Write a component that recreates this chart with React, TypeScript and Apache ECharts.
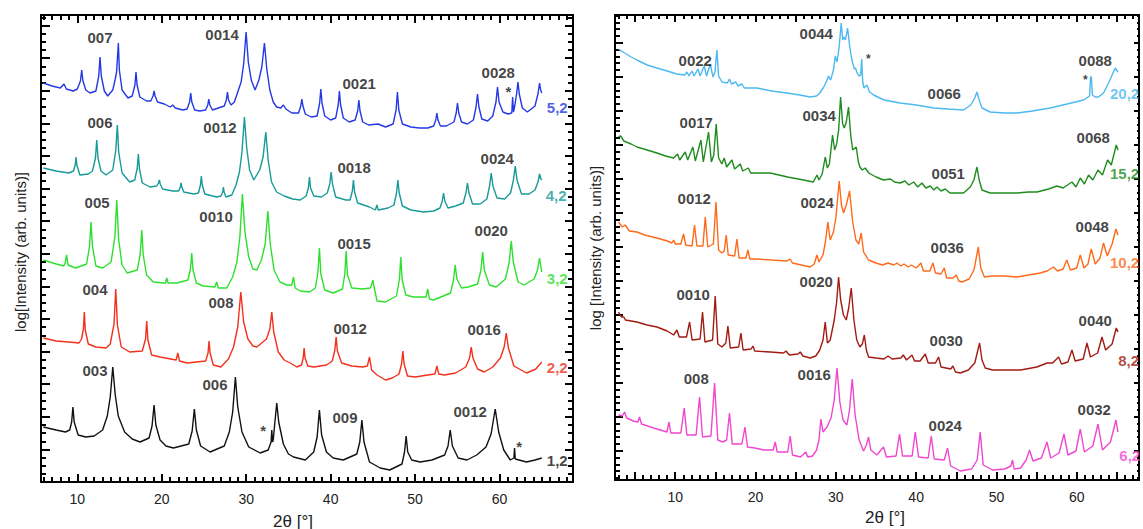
import { useEffect, useRef } from 'react';
import * as echarts from 'echarts';

type Pt = [number, number];
type Note = [number, number, string];

// ---------- Left panel: x = 2θ (°), y = log intensity (arb. units, stacked) ----------
const pattern52: Pt[] = [
  [5.97,399],[7.0,396],[8.0,394],[8.42,398],[8.7,393],[9.5,391],
  [10.0,393],[10.37,401],[10.52,412],[10.67,401],[11.0,392],[11.5,389],
  [12.2,391],[12.54,406],[12.69,425],[12.84,406],[13.2,391],[13.6,386],
  [14.2,392],[14.47,402],[14.65,410],[14.76,425],[14.86,439],[14.98,412],[15.3,392],[16.0,384],
  [16.5,386],[16.82,397],[16.95,410],[17.08,397],[17.4,385],[18.2,381],
  [18.7,381],[18.97,386],[19.09,391],[19.21,386],[19.5,380],[20.3,378],[21.0,375],[21.3,377],[21.6,374],[22.5,372],
  [23.0,373],[23.3,380],[23.43,389],[23.56,380],[23.9,372],[24.5,371],
  [25.2,372],[25.45,377],[25.57,383],[25.69,377],[26.0,372],[26.7,374],
  [27.4,376],[27.65,382],[27.78,390],[27.91,382],[28.2,377],[28.6,380],
  [29.0,390],[29.4,400],[29.7,418],[29.99,450],[30.25,420],[30.6,402],[31.05,392],
  [31.5,402],[31.85,415],[32.16,439],[32.45,412],[32.8,392],[33.2,380],[33.6,375],[34.1,374],[34.4,377],[34.7,373],[35.4,369],
  [36.2,369],[36.46,376],[36.59,383],[36.72,376],[37.0,368],[37.7,365],
  [38.4,366],[38.7,379],[38.84,393],[38.98,379],[39.3,366],[40.0,362],
  [40.6,364],[40.9,377],[41.04,391],[41.18,377],[41.5,364],[42.2,360],
  [42.9,362],[43.2,371],[43.34,382],[43.48,371],[43.8,360],[44.5,357],[45.6,358],[46.5,355],
  [47.4,358],[47.75,372],[47.91,390],[48.07,372],[48.5,358],[49.5,355],[50.5,354],[51.5,354],
  [52.2,356],[52.45,362],[52.58,369],[52.71,362],[53.0,356],[53.7,356],
  [54.6,360],[54.87,369],[55.02,379],[55.17,369],[55.5,360],[56.2,358],
  [56.9,362],[57.22,375],[57.39,388],[57.56,375],[57.9,363],[58.6,361],
  [59.2,366],[59.58,380],[59.76,395],[59.94,380],[60.4,370],[61.0,368],[61.45,369],[61.55,385],[61.65,370],
  [61.8,376],[62.02,388],[62.18,400],[62.34,388],[62.7,374],[63.3,370],
  [64.2,376],[64.55,388],[64.74,399],[64.87,392],[65.0,389],
];

const pattern42: Pt[] = [
  [5.97,314],[7.5,311],[9.0,309],
  [9.55,311],[9.75,317],[9.85,325],[9.95,317],[10.3,307],[11.3,308],
  [11.8,311],[12.15,324],[12.3,342],[12.45,324],[12.8,311],[13.4,307],
  [14.2,312],[14.56,332],[14.74,357],[14.9,330],[15.3,309],[16.2,300],
  [16.8,302],[17.1,314],[17.23,328],[17.36,313],[17.7,299],[18.6,295],
  [19.4,296],[19.62,299],[19.72,302],[19.82,298],[20.1,293],[21.3,291],
  [22.0,291],[22.2,295],[22.29,299],[22.38,295],[22.6,290],[23.8,288],
  [24.35,289],[24.58,297],[24.69,306],[24.8,297],[25.1,288],[26.5,285],
  [27.0,286],[27.22,290],[27.3,295],[27.38,290],[27.6,285],[28.3,287],
  [28.8,297],[29.2,310],[29.5,330],[29.79,365],[30.05,335],[30.4,312],[30.9,302],
  [31.6,312],[32.0,325],[32.32,350],[32.6,322],[33.0,300],[33.6,290],[34.5,286],[35.5,283],[36.4,282],
  [37.1,286],[37.36,294],[37.49,305],[37.62,294],[38.0,286],[38.9,285],
  [39.6,289],[39.9,298],[40.06,310],[40.22,298],[40.6,285],[41.8,282],
  [42.3,282],[42.57,291],[42.7,302],[42.83,290],[43.2,279],[44.6,275],
  [45.3,272],[45.47,277],[45.65,272],[46.8,274],
  [47.5,277],[47.8,289],[47.96,302],[48.12,289],[48.5,276],[49.5,272],[51.0,270],[52.2,271],
  [52.95,274],[53.22,281],[53.37,289],[53.52,281],[53.9,274],[54.8,276],
  [55.7,279],[56.02,289],[56.2,299],[56.38,289],[56.8,278],[57.7,278],
  [58.5,283],[58.82,296],[59.02,309],[59.22,296],[59.7,284],[60.6,283],
  [61.3,289],[61.65,302],[61.86,316],[62.07,302],[62.6,288],[63.5,288],
  [64.2,292],[64.55,300],[64.74,308],[64.9,303],[65.0,302],
];

const pattern32: Pt[] = [
  [5.97,222],[7.5,218],[8.4,216],
  [8.55,219],[8.74,227],[8.9,217],[9.8,214],
  [11.1,218],[11.45,236],[11.62,260],[11.79,236],[12.2,216],[13.0,214],
  [14.0,220],[14.45,245],[14.67,282],[14.89,243],[15.3,217],[15.9,209],
  [17.1,212],[17.45,228],[17.63,252],[17.81,227],[18.2,207],[19.0,200],[20.2,199],
  [20.45,199],[20.59,204],[20.75,199],[21.8,199],
  [23.1,202],[23.4,213],[23.55,229],[23.7,212],[24.1,199],[24.9,196],
  [26.3,195],[26.5,200],[26.7,194],[27.7,194],
  [28.4,205],[28.9,220],[29.25,245],[29.55,288],[29.85,250],[30.3,225],[30.8,213],[31.26,212],
  [31.8,222],[32.25,238],[32.56,271],[32.85,238],[33.3,212],[34.0,200],[34.8,197],
  [35.4,197],[35.6,205],[35.8,194],[36.4,191],[37.5,190],
  [38.2,194],[38.5,210],[38.67,234],[38.84,208],[39.3,192],[40.3,189],
  [41.4,193],[41.68,208],[41.84,231],[42.0,207],[42.5,194],[43.8,193],
  [44.7,194],[44.88,198],[45.0,202],[45.12,196],[45.5,181],[46.5,180],
  [47.8,186],[48.15,203],[48.31,225],[48.47,202],[48.9,187],[49.8,185],
  [51.3,185],[51.5,193],[51.7,183],[52.2,182],
  [54.2,189],[54.55,202],[54.75,217],[54.95,203],[55.5,194],[56.3,195],
  [57.4,198],[57.8,212],[58.0,230],[58.2,212],[58.8,197],[59.6,195],
  [60.7,203],[61.15,220],[61.39,241],[61.63,220],[62.2,200],[62.9,197],
  [64.1,203],[64.5,212],[64.74,224],[64.9,215],[65.0,210],
];

const pattern22: Pt[] = [
  [5.97,144],[7.5,141],[9.0,140],[10.2,139],
  [10.5,143],[10.72,153],[10.83,170],[10.94,152],[11.3,138],[12.2,135],[13.4,134],
  [13.9,138],[14.35,158],[14.55,193],[14.75,157],[15.2,135],[16.2,130],
  [17.7,131],[18.08,143],[18.22,161],[18.36,142],[18.8,127],[19.8,125],
  [21.7,122],[21.9,129],[22.1,121],[23.0,119],
  [25.2,121],[25.48,129],[25.6,141],[25.72,129],[26.1,117],[27.0,115],
  [27.9,123],[28.5,135],[29.0,155],[29.36,190],[29.7,160],[30.2,143],[30.8,136],[31.26,135],
  [32.4,143],[32.8,153],[33.03,170],[33.26,150],[33.8,130],[34.5,122],[35.2,119],[36.0,115],
  [36.55,117],[36.75,124],[36.86,134],[36.97,124],[37.3,116],[38.0,115],[39.5,117],
  [40.2,121],[40.5,132],[40.65,145],[40.8,131],[41.3,119],[42.5,116],[43.8,115],
  [44.35,116],[44.6,125],[44.85,112],[45.5,107],[46.5,102],[47.3,104],
  [48.1,108],[48.4,118],[48.55,131],[48.7,118],[49.1,106],[50.0,105],[51.5,107],
  [52.35,108],[52.58,116],[52.8,108],[53.5,107],[54.8,109],
  [56.0,115],[56.45,124],[56.65,135],[56.85,124],[57.4,113],[58.2,110],[59.2,115],
  [60.1,124],[60.55,135],[60.8,149],[61.05,134],[61.7,116],[63.2,109],[64.3,113],[65.0,120],
];

const pattern12: Pt[] = [
  [5.97,55],[7.5,52],[8.6,50],
  [9.1,52],[9.33,60],[9.48,75],[9.63,60],[10.1,47],[11.0,45],[12.0,46],
  [13.0,52],[13.55,66],[13.9,85],[14.2,115],[14.48,88],[14.85,66],[15.6,50],[16.5,43],[17.43,40],
  [18.5,44],[18.85,56],[19.09,77],[19.3,57],[19.8,42],[20.5,36],[21.38,34],
  [23.2,38],[23.6,51],[23.86,73],[24.1,52],[24.6,36],[25.72,30],
  [27.4,36],[28.0,50],[28.4,70],[28.72,105],[29.0,75],[29.5,50],[30.3,35],[31.65,29],[32.6,32],
  [32.95,40],[33.03,52],[33.12,40],[33.2,42],
  [33.4,60],[33.62,79],[33.85,60],[34.4,38],[35.0,28],[35.6,25],[37.0,22],
  [38.0,30],[38.4,45],[38.67,72],[38.93,47],[39.5,30],[40.3,24],[41.5,22],
  [43.1,28],[43.45,40],[43.7,62],[43.95,40],[44.6,20],[45.87,14],[47.0,12],
  [48.45,18],[48.75,30],[48.94,46],[49.13,30],[49.6,22],[50.6,20],[52.0,22],
  [53.5,27],[53.9,36],[54.16,52],[54.42,36],[55.1,24],[56.14,22],[57.3,27],
  [58.4,35],[59.0,48],[59.49,73],[59.9,50],[60.5,32],[61.27,22],
  [61.7,24],[61.78,34],[61.86,23],[63.2,20],[64.2,22],[65.0,24],
];

// ---------- Right panel ----------
const pattern202: Pt[] = [
  [2.94,431],[3.5,428],[4.5,423],[5.23,420],[6.5,415],[7.72,412],[9.0,409],[10.2,406],[11.2,405],
  [11.46,408],[11.7,404],[12.08,409],[12.35,404],[12.83,411],[13.1,404],[13.61,414],[13.9,404],
  [14.36,416],[14.7,403],[14.95,408],[15.19,430],[15.4,404],[15.81,398],[16.5,397],[16.76,401],
  [17.0,396],[17.55,398],[17.8,394],[18.3,396],[18.6,392],[20.17,392],[22.0,389],[23.9,387],
  [25.5,385],[26.8,383],[27.6,384],
  [28.0,387],[28.5,393],[28.8,398],[29.1,404],[29.35,400],[29.7,410],[29.93,424],[30.15,418],
  [30.4,432],[30.67,457],[30.85,440],[31.0,443],[31.2,440],[31.46,452],[31.75,432],[32.0,420],
  [32.3,411],[32.45,412],[32.6,408],[32.85,404],[33.1,405],[33.22,421],[33.35,398],[33.5,392],
  [33.87,395],[34.2,388],[34.7,385],[36.0,380],[38.0,377],[40.0,375],[42.2,372],[44.0,371],
  [45.9,370],[46.8,375],[47.3,382],[47.57,388],[47.85,380],[48.2,372],[49.2,368],[51.0,367],
  [52.55,367],[54.5,369],[56.7,372],[58.8,376],[60.85,380],[61.6,384],[61.72,403],[61.82,403],
  [61.95,385],[62.3,383],[62.7,383],[63.33,387],[63.96,397],[64.4,405],[64.8,412],[65.13,408],
];

const pattern152: Pt[] = [
  [2.94,343],[3.2,344],[3.6,339],[4.5,336],[5.23,333],[6.5,330],[7.72,327],[8.8,324],[9.8,322],
  [10.29,326],[10.55,320],[11.25,328],[11.55,320],[12.2,333],[12.5,319],[13.2,340],[13.5,318],
  [14.15,348],[14.5,318],[14.8,325],[15.1,356],[15.4,322],[15.8,316],[16.1,322],[16.4,313],
  [17.06,320],[17.4,311],[18.1,316],[18.4,309],[19.1,312],[19.4,307],[21.83,307],[24.0,303],
  [25.98,300],[27.2,298],
  [27.65,305],[27.9,300],[28.3,306],[28.68,323],[28.95,312],[29.2,316],[29.59,345],[29.85,330],
  [30.1,336],[30.35,350],[30.59,383],[30.85,356],[31.05,352],[31.3,358],[31.58,373],[31.85,345],
  [32.1,330],[32.54,333],[32.8,318],[33.0,313],[33.3,310],[33.66,312],[34.1,307],[35.0,303],
  [35.94,300],[36.8,301],[37.3,298],[38.0,297],[38.6,299],[39.1,295],[39.68,298],[40.2,293],
  [40.72,297],[41.2,292],[41.76,294],[42.2,290],[42.59,293],[43.1,289],[43.62,291],[44.2,287],
  [45.9,287],[46.74,293],[47.2,300],[47.57,313],[47.85,300],[48.2,290],[49.2,287],[51.0,287],
  [52.55,287],[54.0,288],[55.04,288],[56.5,291],[57.53,294],[58.3,292],[59.4,298],[59.9,293],
  [60.44,302],[60.95,296],[61.47,305],[62.0,300],[62.64,310],[63.2,305],[63.84,320],[64.3,315],
  [64.92,335],[65.13,330],
];

const pattern102: Pt[] = [
  [2.94,258],[3.4,253],[3.77,255],[4.3,249],[5.23,248],[6.2,245],[7.72,242],[9.0,239],[9.59,237],
  [9.8,240],[10.0,236],[10.7,236],[11.04,246],[11.3,235],[12.1,234],[12.4,255],[12.7,234],
  [13.45,234],[13.74,263],[14.05,233],[14.75,236],[15.07,278],[15.4,230],[15.81,227],[16.1,229],
  [16.35,245],[16.6,225],[17.4,224],[17.68,241],[17.95,222],[18.8,222],[19.05,230],[19.3,221],
  [20.17,221],[22.0,220],[23.9,219],[24.3,221],[24.6,217],[26.8,213],[27.3,216],[27.65,225],
  [27.9,218],[28.4,225],[28.7,238],[29.0,258],[29.3,240],[29.7,248],[30.0,262],[30.42,299],
  [30.7,275],[30.96,267],[31.3,275],[31.71,289],[32.1,258],[32.5,240],[32.85,236],[33.16,247],
  [33.45,228],[34.07,220],[35.0,217],[35.8,215],[36.5,217],[37.2,215],[37.6,217],[38.1,214],
  [38.5,216],[39.0,213],[39.4,215],[40.0,212],[40.6,217],[40.9,209],[41.7,209],[42.09,217],
  [42.4,207],[43.1,206],[43.5,212],[43.8,202],[44.6,202],[45.0,205],[45.3,199],[45.7,198],
  [46.6,201],[47.2,210],[47.74,233],[48.05,212],[48.5,203],[49.5,204],[51.0,204],[52.55,203],
  [54.0,205],[55.45,207],[56.3,209],[57.1,213],[57.6,209],[58.3,211],[58.76,220],[59.2,210],
  [60.0,212],[60.44,225],[60.9,212],[61.4,216],[61.8,231],[62.3,216],[62.9,222],[63.33,237],
  [63.8,224],[64.4,236],[64.88,251],[65.13,245],
];

const pattern82: Pt[] = [
  [2.94,168],[3.3,163],[3.6,163],[3.8,160],[5.23,158],[6.5,155],[7.72,153],[9.0,149],[9.8,145],
  [10.21,150],[10.5,143],[11.4,143],[11.79,158],[12.1,140],[13.1,141],[13.4,168],[13.7,138],
  [14.65,140],[14.98,184],[15.3,136],[15.81,133],[16.3,137],[16.56,154],[16.85,132],[17.9,133],
  [18.18,147],[18.45,130],[19.45,131],[19.67,134],[19.9,129],[21.83,128],[23.49,127],[23.8,129],
  [24.2,125],[25.3,126],[25.57,128],[25.9,124],[26.8,122],[27.5,124],[28.0,130],[28.4,140],
  [28.68,158],[28.95,137],[29.3,140],[29.8,160],[30.1,178],[30.34,203],[30.6,180],[30.95,165],
  [31.3,160],[31.6,172],[31.92,192],[32.25,160],[32.6,140],[33.0,133],[33.3,136],[33.55,145],
  [33.8,130],[34.07,123],[35.0,122],[36.0,121],[36.5,124],[37.0,121],[38.1,122],[38.4,125],
  [38.8,120],[39.48,125],[39.8,119],[40.5,119],[41.13,126],[41.5,117],[42.4,117],[42.79,123],
  [43.1,113],[44.3,111],[44.58,114],[44.9,108],[45.5,107],[46.5,110],[47.3,117],[47.9,137],
  [48.2,120],[48.6,112],[49.5,110],[51.0,110],[53.0,110],[55.04,113],[56.3,117],[57.0,117],
  [57.74,123],[58.1,116],[58.9,118],[59.4,130],[59.8,119],[60.8,121],[61.27,137],[61.7,123],
  [62.6,127],[63.14,143],[63.6,130],[64.4,136],[64.92,152],[65.13,148],
];

const pattern62: Pt[] = [
  [2.94,65],[3.4,64],[3.69,68],[3.95,62],[4.8,59],[5.35,58],[5.55,63],[5.8,56],[7.3,52],[8.97,48],
  [9.22,58],[9.45,47],[10.7,47],[11.12,72],[11.45,45],[12.6,45],[13.03,83],[13.4,43],[14.45,44],
  [14.9,97],[15.3,40],[15.9,38],[16.4,40],[16.76,67],[17.1,36],[18.3,36],[18.68,53],[19.0,33],
  [19.9,32],[21.0,30],[22.2,30],[22.45,38],[22.7,28],[24.0,28],[24.32,44],[24.6,25],[25.6,23],
  [26.27,28],[26.5,23],[27.1,24],[27.6,30],[27.9,40],[28.14,61],[28.4,48],[28.9,53],[29.4,62],
  [29.8,80],[30.14,112],[30.5,78],[30.9,60],[31.38,55],[31.7,70],[32.04,101],[32.4,65],[32.9,40],
  [33.45,29],[33.8,35],[34.07,43],[34.35,30],[35.1,25],[35.94,33],[36.3,23],[37.5,24],[37.93,46],
  [38.3,24],[39.5,24],[39.89,48],[40.3,23],[41.5,22],[41.88,44],[42.25,21],[43.5,20],[43.91,32],
  [44.3,14],[45.5,9],[46.9,11],[47.6,20],[47.98,48],[48.35,15],[49.5,10],[51.0,11],[51.8,14],
  [52.0,20],[52.2,11],[53.0,12],[53.7,20],[54.12,30],[54.55,19],[55.6,22],[56.29,38],[56.75,22],
  [57.8,27],[58.41,46],[58.9,25],[59.9,29],[60.44,51],[60.95,28],[62.0,34],[62.64,56],[63.2,30],
  [64.2,38],[64.88,60],[65.13,48],
];

// Reflection indices (00l) and impurity marks
const leftNotes: Note[] = [
  [12.69,445,'007'],[27.14,448,'0014'],[43.38,399,'0021'],[59.85,410,'0028'],
  [12.69,360,'006'],[26.9,355,'0012'],[42.78,315,'0018'],[59.73,324,'0024'],
  [12.34,280,'005'],[26.43,266,'0010'],[42.78,239,'0015'],[59.02,252,'0020'],
  [12.1,193,'004'],[27.02,180,'008'],[42.31,154,'0012'],[58.18,153,'0016'],
  [12.1,112,'003'],[26.31,98,'006'],[41.7,65,'009'],[56.52,71,'0012'],
];
const leftStars: Pt[] = [[61.04,391],[32.0,52],[62.33,36]];
const rightNotes: Note[] = [
  [12.49,420,'0022'],[27.56,447,'0044'],[43.5,387,'0066'],[62.3,420,'0088'],
  [12.62,358,'0017'],[27.93,365,'0034'],[44.0,307,'0051'],[62.05,343,'0068'],
  [12.37,282,'0012'],[27.68,278,'0024'],[43.87,233,'0036'],[61.93,254,'0048'],
  [12.24,186,'0010'],[27.56,199,'0020'],[43.75,140,'0030'],[62.3,160,'0040'],
  [12.62,102,'008'],[27.31,106,'0016'],[43.62,55,'0024'],[62.18,71,'0032'],
];
const rightStars: Pt[] = [[34.03,421],[61.06,400]];

// Sample names
const leftNames = ['5,2', '4,2', '3,2', '2,2', '1,2'];
const leftNamePos: Pt[] = [[66.83,375],[66.7,287],[66.83,204],[66.83,115],[66.83,22]];
const leftColors = ['#2438e4', '#179a98', '#2ee02e', '#f2301c', '#111111'];
const leftPatterns = [pattern52, pattern42, pattern32, pattern22, pattern12];

const rightNames = ['20,2', '15,2', '10,2', '8,2', '6,2'];
const rightNamePos: Pt[] = [[65.95,387],[65.95,307],[65.95,218],[66.45,120],[66.6,25]];
const rightColors = ['#4cb9f0', '#1f8c1f', '#ff6a1a', '#a21a12', '#f046d0'];
const rightPatterns = [pattern202, pattern152, pattern102, pattern82, pattern62];

// Tick spacing of each frame
const LEFT_X_STEP = 10;
const RIGHT_X_STEP = 5;
const LEFT_Y_STEP = 32.6;
const RIGHT_Y_STEP = 34;

const FONT = 'Arial, "Liberation Sans", sans-serif';
const BLACK = '#000';

function xAxisCfg(grid: number, min: number, max: number, step: number, minorSplit: number, top: boolean, len: number, minorLen: number) {
  return {
    type: 'value', gridIndex: grid, min, max, minInterval: step, maxInterval: step,
    position: top ? 'top' : 'bottom',
    axisLine: { show: true, onZero: false, lineStyle: { color: BLACK, width: 2 } },
    axisTick: { show: true, inside: true, length: len, lineStyle: { color: BLACK, width: 2 } },
    minorTick: { show: true, splitNumber: minorSplit, length: minorLen, lineStyle: { color: BLACK, width: 2 } },
    splitLine: { show: false },
    minorSplitLine: { show: false },
    axisLabel: top ? { show: false } : {
      show: true, fontSize: 14, fontFamily: FONT, color: '#222', margin: 10,
      formatter: (v: number) => (Math.abs(v % 10) < 1e-6 ? String(Math.round(v)) : ''),
    },
  };
}

function yAxisCfg(grid: number, min: number, max: number, step: number, minorSplit: number, right: boolean, len: number, minorLen: number) {
  return {
    type: 'value', gridIndex: grid, min, max, minInterval: step, maxInterval: step,
    position: right ? 'right' : 'left',
    axisLine: { show: true, onZero: false, lineStyle: { color: BLACK, width: 2 } },
    axisTick: { show: true, inside: true, length: len, lineStyle: { color: BLACK, width: 2 } },
    minorTick: { show: true, splitNumber: minorSplit, length: minorLen, lineStyle: { color: BLACK, width: 2 } },
    splitLine: { show: false },
    minorSplitLine: { show: false },
    axisLabel: { show: false },
  };
}

export default function App() {
  const ref = useRef<HTMLDivElement>(null);

  useEffect(() => {
    if (!ref.current) return;
    const chart = echarts.init(ref.current, undefined, { renderer: 'svg' });

    const lineSeries = (data: Pt[], color: string, xi: number, yi: number) => ({
      type: 'line', data, xAxisIndex: xi, yAxisIndex: yi, showSymbol: false, symbol: 'none',
      lineStyle: { color, width: 1.4 }, silent: true, z: 2,
    });

    const noteSeries = (items: any[], xi: number, yi: number) => ({
      type: 'scatter', xAxisIndex: xi, yAxisIndex: yi, symbolSize: 0, silent: true, z: 5,
      data: items,
      label: {
        show: true, position: 'inside', align: 'center', verticalAlign: 'middle',
        fontFamily: FONT, fontWeight: 'bold', fontSize: 15, color: '#111',
        formatter: (p: any) => p.data.text,
      },
    });

    const notes = (list: Note[]) => list.map(([x, y, t]) => ({ value: [x, y], text: t }));
    const stars = (list: Pt[], size: number) => list.map(([x, y]) => ({ value: [x, y], text: '*', label: { fontSize: size } }));
    const names = (pos: Pt[], labels: string[], colors: string[]) =>
      pos.map(([x, y], i) => ({ value: [x, y], text: labels[i], label: { color: colors[i] } }));

    chart.setOption({
      animation: false,
      backgroundColor: '#fff',
      grid: [
        { left: 41, top: 15, width: 532, height: 467 },
        { left: 615, top: 15, width: 524, height: 465 },
      ],
      xAxis: [
        xAxisCfg(0, 5.7, 68.7, LEFT_X_STEP, 10, false, 8, 5),     // left panel bottom
        xAxisCfg(0, 5.7, 68.7, LEFT_X_STEP, 10, true, 8, 5),      // left panel top
        xAxisCfg(1, 2.5, 67.75, RIGHT_X_STEP, 5, false, 8, 5),    // right panel bottom
        xAxisCfg(1, 2.5, 67.75, RIGHT_X_STEP, 5, true, 7, 4),     // right panel top
      ],
      yAxis: [
        yAxisCfg(0, 0, 467, LEFT_Y_STEP, 4, false, 9, 5),         // left panel: data + left frame
        yAxisCfg(0, 0, 467, LEFT_Y_STEP, 4, true, 8, 5),          // left panel right frame
        { type: 'value', gridIndex: 1, min: 0, max: 465, show: false, axisLine: { onZero: false } }, // right panel data
        yAxisCfg(1, 4.8, 469.8, RIGHT_Y_STEP, 5, false, 8, 5),    // right panel left frame
        yAxisCfg(1, 4.8, 469.8, RIGHT_Y_STEP, 5, true, 5, 2),     // right panel right frame
      ],
      series: [
        ...leftPatterns.map((d, i) => lineSeries(d, leftColors[i], 0, 0)),
        ...rightPatterns.map((d, i) => lineSeries(d, rightColors[i], 2, 2)),
        noteSeries([...notes(leftNotes), ...stars(leftStars, 15), ...names(leftNamePos, leftNames, leftColors)], 0, 0),
        noteSeries([...notes(rightNotes), ...stars(rightStars, 12), ...names(rightNamePos, rightNames, rightColors)], 2, 2),
      ],
      graphic: [
        { type: 'text', x: 20, y: 252, rotation: Math.PI / 2, style: { text: 'log[Intensity (arb. units)]', font: `15px ${FONT}`, fill: '#222', align: 'center', verticalAlign: 'middle' } },
        { type: 'text', x: 595, y: 248, rotation: Math.PI / 2, style: { text: 'log [Intensity (arb. units)]', font: `15px ${FONT}`, fill: '#222', align: 'center', verticalAlign: 'middle' } },
        { type: 'text', x: 293, y: 521, style: { text: '2θ [°]', font: `17px ${FONT}`, fill: '#222', align: 'center', verticalAlign: 'middle' } },
        { type: 'text', x: 885, y: 517, style: { text: '2θ [°]', font: `17px ${FONT}`, fill: '#222', align: 'center', verticalAlign: 'middle' } },
      ],
    });

    return () => chart.dispose();
  }, []);

  return <div ref={ref} style={{ position: 'absolute', left: 0, top: 0, width: 1143, height: 529 }} />;
}
